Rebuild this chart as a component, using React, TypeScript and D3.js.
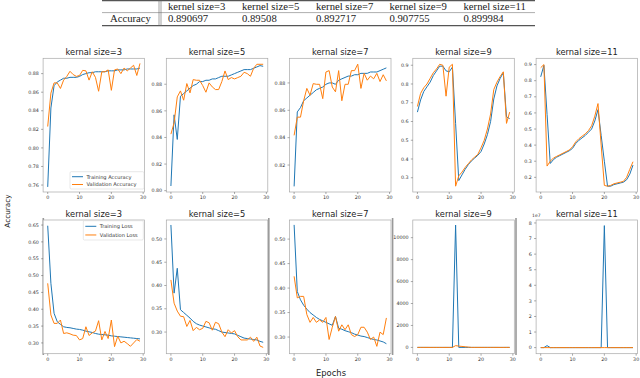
import React from 'react';
import * as d3 from 'd3';

// ---------- table ----------
const tableHeaders = ['kernel size=3', 'kernel size=5', 'kernel size=7', 'kernel size=9', 'kernel size=11'];
const tableRowLabel = 'Accuracy';
const tableAccuracy = ['0.890697', '0.89508', '0.892717', '0.907755', '0.899984'];

// ---------- subplot titles / ticks ----------
const panelTitles = ['kernal size=3', 'kernal size=5', 'kernal size=7', 'kernal size=9', 'kernal size=11'];
const xTicks = [0, 10, 20, 30];
const accLegend = ['Training Accuracy', 'Validation Accuracy'];
const lossLegend = ['Training Loss', 'Validation Loss'];

// ---------- accuracy ----------
const accTrain3 = [0.758, 0.843, 0.867, 0.871, 0.873, 0.875, 0.875, 0.876, 0.876, 0.876, 0.877, 0.879, 0.880, 0.881, 0.881, 0.882, 0.882, 0.882, 0.882, 0.883, 0.883, 0.883, 0.884, 0.884, 0.884, 0.885, 0.885, 0.885, 0.885, 0.886];
const accVal3 = [0.823, 0.859, 0.870, 0.870, 0.864, 0.873, 0.877, 0.8825, 0.879, 0.877, 0.878, 0.8835, 0.883, 0.873, 0.882, 0.876, 0.861, 0.882, 0.882, 0.884, 0.862, 0.884, 0.885, 0.880, 0.886, 0.883, 0.886, 0.889, 0.878, 0.891];
const accTrain5 = [0.8035, 0.857, 0.8385, 0.871, 0.873, 0.875, 0.877, 0.879, 0.880, 0.882, 0.882, 0.883, 0.883, 0.884, 0.884, 0.885, 0.886, 0.886, 0.886, 0.887, 0.888, 0.889, 0.890, 0.891, 0.891, 0.891, 0.892, 0.893, 0.894, 0.8935];
const accVal5 = [0.8425, 0.851, 0.8705, 0.875, 0.868, 0.8805, 0.8735, 0.8835, 0.883, 0.883, 0.879, 0.874, 0.881, 0.878, 0.876, 0.876, 0.882, 0.890, 0.8835, 0.885, 0.884, 0.885, 0.886, 0.889, 0.888, 0.886, 0.892, 0.895, 0.895, 0.895];
const accTrain7 = [0.8044, 0.8588, 0.862, 0.867, 0.869, 0.871, 0.873, 0.875, 0.876, 0.877, 0.879, 0.880, 0.880, 0.879, 0.882, 0.883, 0.884, 0.885, 0.885, 0.886, 0.886, 0.887, 0.887, 0.887, 0.888, 0.888, 0.888, 0.889, 0.890, 0.891];
const accVal7 = [0.8417, 0.855, 0.855, 0.867, 0.876, 0.871, 0.8795, 0.879, 0.879, 0.8685, 0.888, 0.889, 0.877, 0.8735, 0.889, 0.867, 0.879, 0.879, 0.889, 0.889, 0.8937, 0.876, 0.887, 0.882, 0.885, 0.883, 0.887, 0.881, 0.886, 0.8815];
const accTrain9 = [0.65, 0.715, 0.76, 0.785, 0.81, 0.845, 0.87, 0.895, 0.895, 0.87, 0.865, 0.89, 0.59, 0.285, 0.315, 0.345, 0.37, 0.39, 0.405, 0.42, 0.44, 0.48, 0.53, 0.60, 0.72, 0.79, 0.83, 0.86, 0.625, 0.615];
const accVal9 = [0.68, 0.75, 0.78, 0.80, 0.83, 0.86, 0.88, 0.905, 0.90, 0.735, 0.89, 0.905, 0.255, 0.31, 0.33, 0.355, 0.375, 0.395, 0.41, 0.425, 0.46, 0.50, 0.56, 0.64, 0.77, 0.81, 0.84, 0.865, 0.59, 0.65];
const accTrain11 = [0.824, 0.895, 0.59, 0.286, 0.31, 0.325, 0.335, 0.345, 0.355, 0.365, 0.38, 0.41, 0.43, 0.445, 0.46, 0.48, 0.50, 0.55, 0.62, 0.46, 0.30, 0.145, 0.145, 0.155, 0.16, 0.165, 0.17, 0.185, 0.22, 0.276];
const accVal11 = [0.881, 0.90, 0.27, 0.30, 0.32, 0.33, 0.34, 0.35, 0.36, 0.37, 0.39, 0.42, 0.44, 0.455, 0.47, 0.49, 0.52, 0.58, 0.658, 0.40, 0.15, 0.145, 0.15, 0.16, 0.165, 0.17, 0.175, 0.20, 0.25, 0.297];

// ---------- loss ----------
const lossTrain3 = [0.648, 0.477, 0.388, 0.363, 0.355, 0.348, 0.346, 0.345, 0.343, 0.341, 0.340, 0.338, 0.335, 0.333, 0.331, 0.328, 0.326, 0.325, 0.324, 0.323, 0.321, 0.320, 0.319, 0.318, 0.317, 0.316, 0.315, 0.314, 0.313, 0.312];
const lossVal3 = [0.477, 0.383, 0.358, 0.358, 0.368, 0.328, 0.33, 0.327, 0.323, 0.322, 0.309, 0.313, 0.348, 0.322, 0.33, 0.335, 0.366, 0.309, 0.334, 0.313, 0.368, 0.289, 0.32, 0.30, 0.305, 0.298, 0.29, 0.30, 0.31, 0.305];
const lossTrain5 = [0.53, 0.3836, 0.437, 0.348, 0.342, 0.336, 0.33, 0.323, 0.318, 0.315, 0.313, 0.311, 0.309, 0.307, 0.306, 0.303, 0.300, 0.299, 0.298, 0.297, 0.296, 0.293, 0.290, 0.287, 0.286, 0.285, 0.284, 0.283, 0.280, 0.278];
const lossVal5 = [0.412, 0.362, 0.345, 0.334, 0.333, 0.312, 0.325, 0.303, 0.31, 0.305, 0.308, 0.323, 0.32, 0.304, 0.321, 0.318, 0.300, 0.29, 0.305, 0.298, 0.303, 0.29, 0.283, 0.283, 0.283, 0.289, 0.280, 0.289, 0.270, 0.267];
const lossTrain7 = [0.529, 0.393, 0.376, 0.365, 0.357, 0.350, 0.345, 0.340, 0.336, 0.333, 0.330, 0.327, 0.324, 0.342, 0.318, 0.316, 0.313, 0.311, 0.309, 0.306, 0.304, 0.302, 0.301, 0.299, 0.297, 0.295, 0.294, 0.292, 0.290, 0.2864];
const lossVal7 = [0.424, 0.38, 0.383, 0.383, 0.346, 0.33, 0.34, 0.33, 0.335, 0.33, 0.34, 0.295, 0.32, 0.342, 0.312, 0.325, 0.315, 0.325, 0.305, 0.301, 0.305, 0.32, 0.32, 0.31, 0.295, 0.30, 0.281, 0.31, 0.305, 0.339];
const lossTrain9 = [0.66, 0.58, 0.52, 0.49, 0.46, 0.43, 0.41, 0.39, 0.37, 0.38, 0.37, 0.36, 11150, 0.9, 1.2, 1.1, 1.0, 0.98, 0.95, 0.92, 0.9, 0.86, 0.8, 0.73, 0.6, 0.5, 0.45, 0.42, 0.9, 0.95];
const lossVal9 = [0.6, 0.55, 0.5, 0.48, 0.45, 0.42, 0.4, 0.38, 0.37, 0.6, 0.38, 0.36, 160, 120, 90, 60, 30, 1.2, 1.1, 1.0, 0.95, 0.9, 0.8, 0.7, 0.55, 0.5, 0.45, 0.42, 1.0, 0.9];
const lossTrain11 = [0.8, 0.5, 1.3e6, 0.9, 0.8, 0.75, 0.7, 0.68, 0.66, 0.64, 0.62, 0.6, 0.58, 0.56, 0.55, 0.54, 0.53, 0.52, 0.51, 0.9, 7.83e7, 1.5, 1.4, 1.3, 1.2, 1.1, 1.0, 0.95, 0.9, 0.85];
const lossVal11 = [0.4, 0.3, 1.6, 1.3, 1.2, 1.1, 1.0, 0.95, 0.9, 0.85, 0.8, 0.75, 0.7, 0.68, 0.66, 0.64, 0.62, 0.6, 0.7, 1.5, 2.1, 2.2, 2.1, 2.0, 2.0, 1.9, 1.8, 1.7, 1.6, 1.4];

const accYTicks3 = [0.76, 0.78, 0.80, 0.82, 0.84, 0.86, 0.88];
const accYTicks5 = [0.80, 0.82, 0.84, 0.86, 0.88];
const accYTicks7 = [0.82, 0.84, 0.86, 0.88];
const accYTicks9 = [0.3, 0.4, 0.5, 0.6, 0.7, 0.8, 0.9];
const accYTicks11 = [0.2, 0.3, 0.4, 0.5, 0.6, 0.7, 0.8, 0.9];
const lossYTicks3 = [0.30, 0.35, 0.40, 0.45, 0.50, 0.55, 0.60, 0.65];
const lossYTicks5 = [0.30, 0.35, 0.40, 0.45, 0.50];
const lossYTicks7 = [0.30, 0.35, 0.40, 0.45, 0.50];
const lossYTicks9 = [0, 2000, 4000, 6000, 8000, 10000];
const lossYTicks11 = [0, 1e7, 2e7, 3e7, 4e7, 5e7, 6e7, 7e7, 8e7];

// ---------- layout ----------
const W = 640;
const H = 378;
const COL_LEFT = [43.1, 166.3, 289.5, 412.8, 536.1];
const COL_W = 101.5;
const ROW_TOP = [58.3, 220];
const ROW_H = 133.7;
const BLUE = '#1f77b4';
const ORANGE = '#ff7f0e';
const SANS = 'DejaVu Sans, sans-serif';
const SERIF = 'Liberation Serif, Times New Roman, serif';

type LegendSpec = { labels: string[]; x: number; y: number; w: number; h: number };

type PanelProps = {
  left: number;
  top: number;
  yDomain: [number, number];
  yTicks: number[];
  yFmt: (v: number) => string;
  train: number[];
  val: number[];
  title: string;
  legend?: LegendSpec;
  offset?: string;
};

function Panel({ left, top, yDomain, yTicks, yFmt, train, val, title, legend, offset }: PanelProps) {
  const x = d3.scaleLinear().domain([-1.45, 30.45]).range([left, left + COL_W]);
  const y = d3.scaleLinear().domain(yDomain).range([top + ROW_H, top]);
  const line = d3
    .line<number>()
    .x((_, i) => x(i))
    .y((d) => y(d));
  const bottom = top + ROW_H;
  return (
    <g>
      <rect x={left} y={top} width={COL_W} height={ROW_H} fill="#fff" stroke="#a8a8a8" strokeWidth={0.7} />
      <path d={line(train) || ''} fill="none" stroke={BLUE} strokeWidth={1} strokeLinejoin="round" />
      <path d={line(val) || ''} fill="none" stroke={ORANGE} strokeWidth={1} strokeLinejoin="round" />
      {yTicks.map((t) => (
        <g key={'y' + t}>
          <line x1={left - 2} x2={left} y1={y(t)} y2={y(t)} stroke="#555" strokeWidth={0.5} />
          <text x={left - 4.2} y={y(t) + 1.7} fontSize={4.8} fontFamily={SANS} fill="#333" textAnchor="end">
            {yFmt(t)}
          </text>
        </g>
      ))}
      {xTicks.map((t) => (
        <g key={'x' + t}>
          <line x1={x(t)} x2={x(t)} y1={bottom} y2={bottom + 2} stroke="#555" strokeWidth={0.5} />
          <text x={x(t)} y={bottom + 7} fontSize={4.8} fontFamily={SANS} fill="#333" textAnchor="middle">
            {t}
          </text>
        </g>
      ))}
      <text x={left + COL_W / 2} y={top - 3} fontSize={8.3} fontFamily={SANS} fill="#222" textAnchor="middle">
        {title}
      </text>
      {offset && (
        <text x={left - 4} y={top - 3.5} fontSize={4.5} fontFamily={SANS} fill="#333">
          {offset}
        </text>
      )}
      {legend && (
        <g>
          <rect x={legend.x} y={legend.y} width={legend.w} height={legend.h} rx={1.2} fill="#fff" fillOpacity={0.85} stroke="#d0d0d0" strokeWidth={0.5} />
          {legend.labels.map((lab, i) => {
            const cy = legend.y + legend.h * (i === 0 ? 0.29 : 0.74);
            return (
              <g key={lab}>
                <line x1={legend.x + 2} x2={legend.x + 13} y1={cy} y2={cy} stroke={i === 0 ? BLUE : ORANGE} strokeWidth={1} />
                <text x={legend.x + 16.5} y={cy + 1.8} fontSize={5.1} fontFamily={SANS} fill="#333">
                  {lab}
                </text>
              </g>
            );
          })}
        </g>
      )}
    </g>
  );
}

const f2 = (v: number) => v.toFixed(2);
const f1 = (v: number) => v.toFixed(1);
const fInt = (v: number) => String(v);
const fE7 = (v: number) => String(Math.round(v / 1e7));

export default function App() {
  const accPanels: PanelProps[] = [
    { left: COL_LEFT[0], top: ROW_TOP[0], yDomain: [0.7525, 0.8965], yTicks: accYTicks3, yFmt: f2, train: accTrain3, val: accVal3, title: panelTitles[0], legend: { labels: accLegend, x: 70, y: 171.7, w: 74, h: 17.3 } },
    { left: COL_LEFT[1], top: ROW_TOP[0], yDomain: [0.799, 0.8995], yTicks: accYTicks5, yFmt: f2, train: accTrain5, val: accVal5, title: panelTitles[1] },
    { left: COL_LEFT[2], top: ROW_TOP[0], yDomain: [0.8003, 0.898], yTicks: accYTicks7, yFmt: f2, train: accTrain7, val: accVal7, title: panelTitles[2] },
    { left: COL_LEFT[3], top: ROW_TOP[0], yDomain: [0.224, 0.937], yTicks: accYTicks9, yFmt: f1, train: accTrain9, val: accVal9, title: panelTitles[3] },
    { left: COL_LEFT[4], top: ROW_TOP[0], yDomain: [0.109, 0.939], yTicks: accYTicks11, yFmt: f1, train: accTrain11, val: accVal11, title: panelTitles[4] },
  ];
  const lossPanels: PanelProps[] = [
    { left: COL_LEFT[0], top: ROW_TOP[1], yDomain: [0.268, 0.665], yTicks: lossYTicks3, yFmt: f2, train: lossTrain3, val: lossVal3, title: panelTitles[0], legend: { labels: lossLegend, x: 83.3, y: 220.7, w: 60, h: 19.3 } },
    { left: COL_LEFT[1], top: ROW_TOP[1], yDomain: [0.2535, 0.5407], yTicks: lossYTicks5, yFmt: f2, train: lossTrain5, val: lossVal5, title: panelTitles[1] },
    { left: COL_LEFT[2], top: ROW_TOP[1], yDomain: [0.266, 0.539], yTicks: lossYTicks7, yFmt: f2, train: lossTrain7, val: lossVal7, title: panelTitles[2] },
    { left: COL_LEFT[3], top: ROW_TOP[1], yDomain: [-573, 11610], yTicks: lossYTicks9, yFmt: fInt, train: lossTrain9, val: lossVal9, title: panelTitles[3] },
    { left: COL_LEFT[4], top: ROW_TOP[1], yDomain: [-0.39e7, 8.19e7], yTicks: lossYTicks11, yFmt: fE7, train: lossTrain11, val: lossVal11, title: panelTitles[4], offset: '1e7' },
  ];
  const colX = [168, 242, 316, 389.5, 463.5];
  const edgeBars = [43.3, 268.8, 392.6, 516];
  return (
    <svg width={W} height={H} style={{ position: 'absolute', left: 0, top: 0, background: '#fff' }}>
      {/* table */}
      <g fontFamily={SERIF} fontSize={10.7} fill="#222">
        <line x1={102} x2={535} y1={0.6} y2={0.6} stroke="#555" strokeWidth={1.1} />
        <line x1={102} x2={535} y1={12.6} y2={12.6} stroke="#777" strokeWidth={0.6} />
        <line x1={102} x2={535} y1={25.6} y2={25.6} stroke="#555" strokeWidth={1.1} />
        <line x1={159} x2={159} y1={0} y2={26} stroke="#666" strokeWidth={0.6} />
        <line x1={161} x2={161} y1={0} y2={26} stroke="#666" strokeWidth={0.6} />
        {tableHeaders.map((h, i) => (
          <text key={h} x={colX[i]} y={9.6}>
            {h}
          </text>
        ))}
        <text x={110} y={22.4}>
          {tableRowLabel}
        </text>
        {tableAccuracy.map((v, i) => (
          <text key={v} x={colX[i]} y={22.4}>
            {v}
          </text>
        ))}
      </g>
      {edgeBars.map((bx) => (
        <rect key={bx} x={bx - 0.8} y={218} width={1.6} height={137} fill="#999" />
      ))}
      {accPanels.map((p, i) => (
        <Panel key={'a' + i} {...p} />
      ))}
      {lossPanels.map((p, i) => (
        <Panel key={'l' + i} {...p} />
      ))}
      <text x={331} y={375.5} fontSize={8.4} fontFamily={SANS} fill="#222" textAnchor="middle">
        Epochs
      </text>
      <text transform="translate(9.5,211) rotate(-90)" fontSize={7.3} fontFamily={SANS} fill="#222" textAnchor="middle">
        Accuracy
      </text>
    </svg>
  );
}
